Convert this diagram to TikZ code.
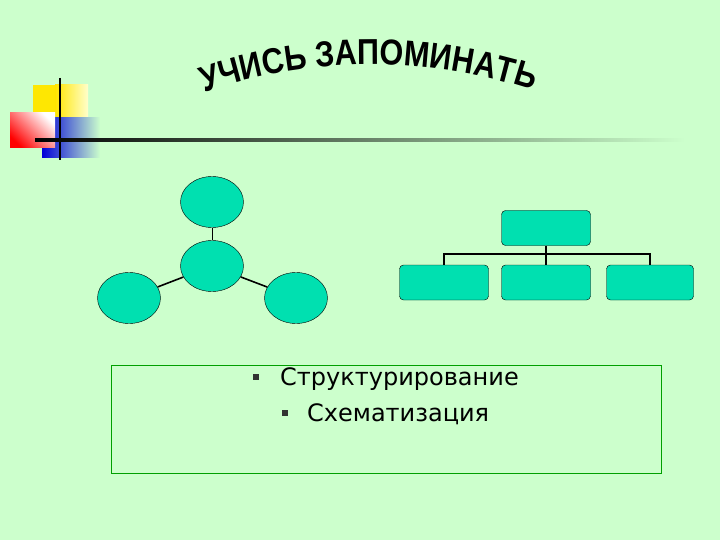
\documentclass[tikz,border=0pt]{standalone}
\usepackage{fontspec}
\setmainfont{DejaVu Sans}
\newfontfamily\titlefont[FakeStretch=0.85]{Liberation Sans Bold}
\usetikzlibrary{decorations.text,shapes.geometric}
\definecolor{bg}{RGB}{204,255,204}
\definecolor{teal}{RGB}{0,224,176}
\definecolor{boxgreen}{RGB}{0,160,0}
\tikzset{
 circ/.style={ellipse,draw=black,fill=teal,minimum width=63pt,minimum height=51pt,inner sep=0pt},
 rbox/.style={draw=black,fill=teal,rounded corners=4pt,minimum width=89pt,minimum height=35pt,inner sep=0pt},
 link/.style={line width=1.6pt},
 blt/.style={fill=black!80,minimum size=6pt,inner sep=0pt},
 txt/.style={anchor=base west,font=\fontsize{24}{26}\selectfont,inner sep=0pt}
}
\begin{document}
\begin{tikzpicture}[x=1pt,y=-1pt]
\fill[bg] (0,0) rectangle (720,540);
\useasboundingbox (0,0) rectangle (720,540);
% logo
\fill[yellow!90!orange] (33,85) rectangle (88,118);
\shade[left color=yellow!80!orange,right color=yellow!20] (55,85) rectangle (88,118);
\shade[left color=blue!85!black,right color=bg] (42,118) rectangle (100,158);
\shade[left color=red,right color=white,shading angle=135] (10,113) rectangle (55,148);
\draw[line width=1.5pt] (60,78) -- (60,160);
\shade[left color=black,right color=bg] (35,139) rectangle (685,142);
% title
\path[decorate,decoration={text along path,text align=center,
 text={|\titlefont\fontsize{36}{36}\selectfont|УЧИСЬ ЗАПОМИНАТЬ}}]
 (172,104) .. controls (300,52) and (440,52) .. (565,102);
% radial diagram
\node[circ] (c) at (212,266) {};
\node[circ] (t) at (212,202) {};
\node[circ] (l) at (129,298) {};
\node[circ] (r) at (296,298) {};
\draw[link,line width=1pt] (c) -- (t);
\draw[link] (c) -- (l);
\draw[link] (c) -- (r);
% tree
\node[rbox] (p) at (546,228) {};
\node[rbox] (a) at (444,282.5) {};
\node[rbox] (b) at (546,282.5) {};
\node[rbox,minimum width=87pt] (d) at (650,282.5) {};
\coordinate (j) at (546,254);
\draw[line width=1.2pt] (p.south) -- (b.north);
\draw[line width=1.2pt] (a.north) |- (j) -| (d.north);
% text box
\node[draw=boxgreen,line width=1pt,minimum width=550pt,minimum height=108pt,inner sep=0pt] (tb) at (386,419) {};
\node[blt] (b1) at (256,377) {};
\node[txt] (t1) at (280,385) {Структурирование};
\node[blt] (b2) at (285,413) {};
\node[txt] (t2) at (307,421) {Схематизация};
\end{tikzpicture}
\end{document}
